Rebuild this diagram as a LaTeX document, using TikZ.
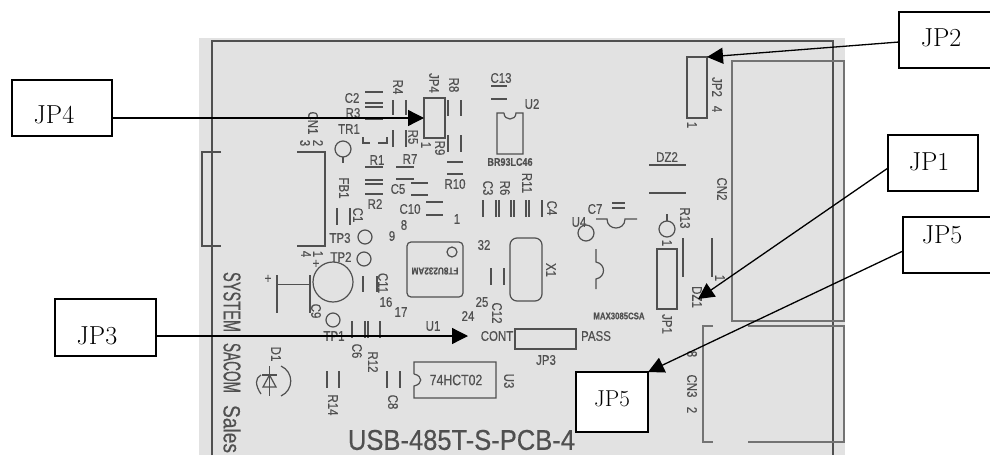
\documentclass[tikz,border=0pt]{standalone}
\usepackage{fontspec}
\usepackage{graphicx}
\usetikzlibrary{arrows.meta}
\newfontfamily\pcbfont[FakeBold=0.5]{Liberation Sans}
\definecolor{boardbg}{HTML}{E2E2E2}
\definecolor{ink}{HTML}{505050}
\newcounter{plc}
\newcommand\plab[5][14]{\stepcounter{plc}\node[pcbtext,rotate=#4,name=pl\arabic{plc}] at (#2,#3) {\fontsize{#1}{#1}\selectfont\scalebox{.82}[1]{#5}};}
\newcommand\bigtxt[6]{\stepcounter{plc}\node[pcbtext,rotate=#3,name=pl\arabic{plc}] at (#1,#2) {\resizebox{#4pt}{#5pt}{#6}};}
\newcommand\lns[6]{\foreach \xx in {#1} {\draw[pcb] (\xx,#2) -- (\xx,#3);}}
\newcommand\hns[3]{\foreach \yy in {#3} {\draw[pcb] (#1,\yy) -- (#2,\yy);}}
\tikzset{
  pcb/.style={draw=ink,line width=1.2pt},
  pcbtext/.style={text=ink,font=\pcbfont,inner sep=0pt,outer sep=0pt},
  partbox/.style={draw=ink,line width=1.2pt,inner sep=0pt,outer sep=0pt,fill=none},
  labelbox/.style={draw=black,line width=1.3pt,fill=white,inner sep=0pt,outer sep=0pt},
  labeltext/.style={text=black,inner sep=0pt,outer sep=0pt,font=\fontsize{26}{26}\selectfont},
  callout/.style={draw=black,line width=1.3pt,-{Triangle[length=16pt,width=16pt]}},
  pad/.style={circle,draw=ink,line width=1.2pt,inner sep=0pt,outer sep=0pt},
}
\begin{document}
\begin{tikzpicture}[x=1pt,y=-1pt]
\useasboundingbox (0,0) rectangle (990,455);
\clip (0,0) rectangle (990,455);
\fill[white] (0,0) rectangle (990,455);
\fill[boardbg] (199,38) rectangle (845,455);
% board outline
\draw[draw=ink,line width=1.3pt] (212,455) -- (212,41) -- (833,41) -- (833,455);
% CN1
\draw[pcb] (221,152) -- (202,152) -- (202,246) -- (221,246);
\draw[pcb] (297,152) -- (325,152) -- (325,246) -- (297,246);
% CN2, CN3
\node[partbox,draw=ink!80,line width=1.4pt,minimum width=112pt,minimum height=260pt] (cntwo) at (788,191) {};
\draw[draw=ink!80,line width=1.3pt] (713,326) -- (703,326) -- (703,442) -- (713,442);
\draw[draw=ink!80,line width=1.3pt] (748,326) -- (844,326) -- (844,442) -- (748,442);
% jumpers
\node[partbox,minimum width=20pt,minimum height=61pt] (jptwo) at (697,87.5) {};
\node[partbox,minimum width=21pt,minimum height=40pt] (jpfour) at (434.5,118) {};
\node[partbox,minimum width=20pt,minimum height=60pt] (jpone) at (667,279) {};
\node[partbox,minimum width=61pt,minimum height=20pt] (jpthree) at (545.5,339) {};
% top-left parts
\hns{365}{383}{92,103,107,119,167,180,184,194}
\lns{393,406}{100}{115}{}{}{}
\lns{393,406}{130}{147}{}{}{}
\lns{448,461}{100}{116}{}{}{}
\lns{448,461}{135}{152}{}{}{}
\hns{447}{463}{162,174}
\draw[pcb] (363,137) -- (363,143) -- (370,143);
\draw[pcb] (387,137) -- (387,143) -- (378,143);
\node[pad,minimum size=16pt] (trone) at (343,149) {};
\draw[pcb] (trone.south) -- (343,163);
\hns{396}{414}{167,179}
\hns{411}{428}{183,195}
\hns{426}{443}{202,215}
\lns{337,350}{208}{225}{}{}{}
\node[pad,minimum size=14pt] (tpthree) at (365,237) {};
\node[pad,minimum size=14pt] (tptwo) at (364,259) {};
\node[pad,minimum size=14pt] (tpone) at (333,320) {};
\node[pad,minimum size=40pt] (cnine) at (333,282) {};
\draw[pcb] (277,275) -- (277,313);
\draw[pcb] (310,275) -- (310,313);
\draw[draw=ink,line width=1.8pt] (277,284.5) -- (310,284.5);
\lns{363,377}{276}{292}{}{}{}
\lns{352,365,368,380}{321}{338}{}{}{}
% main chip, crystal
\node[partbox,rounded corners=4pt,minimum width=56pt,minimum height=55pt] (ftchip) at (435,269.5) {};
\node[pad,minimum size=10pt] (ftdot) at (452,252) {};
\node[partbox,rounded corners=7pt,minimum width=32pt,minimum height=63pt] (xone) at (526,269.5) {};
\lns{491,504}{268}{285}{}{}{}
% U2
\hns{491}{507}{86,99}
\draw[pcb] (504,113) -- (497,113) -- (497,154) -- (523,154) -- (523,113) -- (516,113) .. controls (516,121) and (504,121) .. (504,113);
\lns{483,496,499,511,514,526,529,542}{200}{217}{}{}{}
% right
\hns{649}{686}{165,193}
\node[pad,minimum size=16pt] (rthirteen) at (667,229) {};
\draw[pcb] (rthirteen.north) -- (667,214);
\lns{683,712}{238}{277}{}{}{}
\node[pad,minimum size=16pt] (ufour) at (586,233) {};
\draw[pcb] (596,249) -- (596,262) .. controls (606,264) and (606,277) .. (596,279) -- (596,289);
\hns{612}{625}{203,208}
\draw[pcb] (596,219) -- (607,219) .. controls (607,231) and (625,231) .. (625,219) -- (637,219);
% D1
\draw[pcb] (261,375) .. controls (255,378) and (255,385) .. (261,394);
\draw[pcb] (281,366) .. controls (294,372) and (294,390) .. (281,396);
\draw[pcb] (263,387) -- (276,387) -- (269.5,375) -- cycle;
\draw[pcb] (262,375) -- (277,375);
\draw[pcb] (269.5,366) -- (269.5,396);
% bottom
\lns{327,339}{371}{388}{}{}{}
\lns{387,400}{371}{388}{}{}{}
\draw[pcb] (414,374) -- (414,362) -- (496,362) -- (496,398) -- (414,398) -- (414,386) .. controls (423,384) and (423,376) .. (414,374);
% texts
\plab{434}{83}{-90}{JP4}
\plab{426}{145}{-90}{1}
\plab{440}{148}{-90}{R9}
\plab{454}{85}{-90}{R8}
\plab{455}{184}{0}{R10}
\plab{398}{87}{-90}{R4}
\plab{413}{137}{-90}{R5}
\plab{352}{98}{0}{C2}
\plab{353}{113}{0}{R3}
\plab{349}{129}{0}{TR1}
\plab{313}{123}{-90}{CN1}
\plab{318}{143}{-90}{2}
\plab{305}{143}{-90}{3}
\plab{377}{160}{0}{R1}
\plab{375}{204}{0}{R2}
\plab{410}{159}{0}{R7}
\plab{398}{189}{0}{C5}
\plab{410}{209}{0}{C10}
\plab{404}{225}{0}{8}
\plab{457}{219}{0}{1}
\plab{344}{188}{-90}{FB1}
\plab{358}{215}{-90}{C1}
\plab{392}{236}{0}{9}
\plab{340}{238}{0}{TP3}
\plab{341}{257}{0}{TP2}
\plab{306}{254}{-90}{4}
\plab{318}{254}{-90}{1}
\plab{316}{264}{0}{+}
\plab{268}{279}{0}{+}
\plab{316}{311}{-90}{C9}
\plab{334}{336}{0}{TP1}
\plab{383}{283}{-90}{C11}
\plab{386}{302}{0}{16}
\plab{401}{312}{0}{17}
\plab{357}{351}{-90}{C6}
\plab{373}{362}{-90}{R12}
\plab{433}{326}{0}{U1}
\plab{468}{316}{0}{24}
\plab{482}{302}{0}{25}
\plab{497}{313}{-90}{C12}
\plab{484}{245}{0}{32}
\plab{497}{336}{0}{CONT}
\plab[10]{435}{271}{180}{\textbf{FT8U232AM}}
\plab{551}{270}{-90}{X1}
\plab{546}{360}{0}{JP3}
\plab{596}{336}{0}{PASS}
\plab[9.5]{619}{316}{0}{\textbf{MAX3085CSA}}
\plab{579}{222}{0}{U4}
\plab{595}{209}{0}{C7}
\plab{276}{354}{-90}{D1}
\plab{333}{405}{-90}{R14}
\plab{393}{402}{-90}{C8}
\plab[15]{456}{380}{0}{74HCT02}
\plab{509}{381}{-90}{U3}
\plab{501}{78}{0}{C13}
\plab{532}{104}{0}{U2}
\plab[11]{510}{162}{0}{\textbf{BR93LC46}}
\plab{488}{188}{-90}{C3}
\plab{505}{188}{-90}{R6}
\plab{527}{183}{-90}{R11}
\plab{552}{208}{-90}{C4}
\plab{717}{87}{-90}{JP2}
\plab{717}{109}{-90}{4}
\plab{692}{125}{-90}{1}
\plab{722}{189}{-90}{CN2}
\plab{667}{157}{0}{DZ2}
\plab{685}{218}{-90}{R13}
\plab{667}{243}{-90}{1}
\plab{667}{324}{-90}{JP1}
\plab{720}{278}{-90}{1}
\plab{697}{297}{-90}{DZ1}
\plab{692}{354}{-90}{8}
\plab{692}{386}{-90}{CN3}
\plab{692}{410}{-90}{2}
\bigtxt{461.5}{440}{0}{227}{20}{USB-485T-S-PCB-4}
\bigtxt{232}{302}{-90}{60}{17}{SYSTEM}
\bigtxt{232}{368}{-90}{50}{17}{SACOM}
\bigtxt{232}{429}{-90}{48}{17}{Sales}
% callout targets
\coordinate (tipfour) at (jpfour.west);
\coordinate (tiptwo) at (jptwo.north east);
\coordinate (tipthree) at (468,336);
\coordinate (tipone) at (698,299);
% label boxes
\node[labelbox,minimum width=100pt,minimum height=56pt] (boxfour) at (62,108) {};
\node[labelbox,minimum width=101pt,minimum height=57pt] (boxthree) at (105.5,327.5) {};
\node[labelbox,minimum width=100pt,minimum height=56pt] (boxtwo) at (949,40) {};
\node[labelbox,minimum width=90pt,minimum height=56pt] (boxone) at (933,163) {};
\node[labelbox,minimum width=100pt,minimum height=56pt] (boxfivea) at (953,245) {};
\node[labelbox,minimum width=72pt,minimum height=60pt] (boxfiveb) at (612,402) {};
\node[labeltext] (txfour) at (54,115) {JP4};
\node[labeltext] (txthree) at (97,336) {JP3};
\node[labeltext] (txtwo) at (941,38) {JP2};
\node[labeltext] (txone) at (929,162) {JP1};
\node[labeltext] (txfivea) at (942,235) {JP5};
\node[labeltext,font=\fontsize{23}{23}\selectfont] (txfiveb) at (612,399) {JP5};
% callouts
\draw[callout] (boxfour.east |- tipfour) -- (tipfour);
\draw[callout] (boxthree.east |- tipthree) -- (tipthree);
\draw[callout] (boxtwo.west |- 0,42) -- (tiptwo);
\draw[callout] (boxone.west |- 0,168) -- (tipone);
\draw[callout] (boxfivea.west |- 0,251) -- (boxfiveb.north east);
\end{tikzpicture}
\end{document}
